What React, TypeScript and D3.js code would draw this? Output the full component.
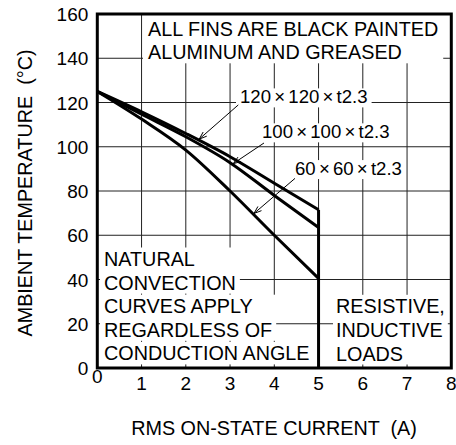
import React, { useEffect, useRef } from "react";
import * as d3 from "d3";

// ---------- data ----------
const xTicks = [0, 1, 2, 3, 4, 5, 6, 7, 8];
const yTicks = [0, 20, 40, 60, 80, 100, 120, 140, 160];
const currents = [0, 1, 2, 3, 4, 5];
const fin120 = [125, 115.8, 106, 95.5, 83.5, 71.5];
const fin100 = [125, 114.7, 104.5, 92.8, 78, 63.5];
const fin60 = [125, 112.5, 98.5, 80, 60, 40.5];
const seriesNames = [["120", "120", "t2.3"], ["100", "100", "t2.3"], ["60", "60", "t2.3"]];
const labelPos = [[3.225, 119.6], [3.722, 103.8], [4.468, 87.2]];
const leaderStart = [[3.186, 118.9], [3.767, 101.7], [4.468, 85.7]];
const leaderTipX = [2.305, 3.073, 3.541];
const noteTop = ["ALL FINS ARE BLACK PAINTED", "ALUMINUM AND GREASED"];
const noteLeft = [["NATURAL", "CONVECTION"], ["CURVES APPLY", "REGARDLESS OF"], ["CONDUCTION ANGLE"]];
const noteRight = ["RESISTIVE,", "INDUCTIVE", "LOADS"];
const xTitle = "RMS ON-STATE CURRENT  (A)";
const yTitle = "AMBIENT TEMPERATURE  (°C)";
const limitCurrent = 5;

const W = 456;
const H = 445;
const FONT = "'Liberation Sans', Arial, Helvetica, sans-serif";

export default function App() {
  const ref = useRef<SVGSVGElement>(null);

  useEffect(() => {
    const svg = d3.select(ref.current);
    svg.selectAll("*").remove();

    const x = d3.scaleLinear().domain([0, 8]).range([97.3, 451.3]);
    const y = d3.scaleLinear().domain([0, 160]).range([368, 14]);

    const grid = svg.append("g");
    const boxes = svg.append("g");
    const texts = svg.append("g").attr("font-family", FONT).attr("fill", "#000");
    const marks = svg.append("g");

    // grid
    xTicks.slice(1, -1).forEach((t) => {
      grid.append("line").attr("x1", x(t)).attr("x2", x(t)).attr("y1", y(0)).attr("y2", y(160))
        .attr("stroke", "#222").attr("stroke-width", 1);
    });
    yTicks.slice(1, -1).forEach((t) => {
      grid.append("line").attr("x1", x(0)).attr("x2", x(8)).attr("y1", y(t)).attr("y2", y(t))
        .attr("stroke", "#222").attr("stroke-width", 1);
    });

    const addBox = (nodes: SVGTextElement[], padX: number, padTop: number, padBottom: number) => {
      let x0 = Infinity, x1 = -Infinity, y0 = Infinity, y1 = -Infinity;
      nodes.forEach((n) => {
        const b = n.getBBox();
        x0 = Math.min(x0, b.x); x1 = Math.max(x1, b.x + b.width);
        y0 = Math.min(y0, b.y); y1 = Math.max(y1, b.y + b.height);
      });
      boxes.append("rect").attr("x", x0 - padX).attr("y", y0 - padTop)
        .attr("width", x1 - x0 + 2 * padX).attr("height", y1 - y0 + padTop + padBottom)
        .attr("fill", "#fff");
    };

    const FS = 19.8;
    const addText = (str: string, tx: number, ty: number, fs = FS, anchor = "start") =>
      texts.append("text").attr("x", tx).attr("y", ty).attr("font-size", fs)
        .attr("text-anchor", anchor).style("white-space", "pre").text(str).node() as SVGTextElement;

    // top note
    const topNodes = noteTop.map((s, i) => addText(s, 148, 36 + i * 23.3));
    addBox(topNodes, 5, 10, 0);

    // left note
    let line = 0;
    noteLeft.forEach((group) => {
      const nodes = group.map((s) => addText(s, 104, 266 + (line++) * 23.6));
      addBox(nodes, 4, 0.5, 0);
    });

    // right note
    const rightNodes = noteRight.map((s, i) => addText(s, 336, 313.3 + i * 23.6));
    addBox(rightNodes, 3, 0.5, 0);

    // series labels (dims separated by ×)
    seriesNames.forEach((parts, i) => {
      const t = texts.append("text").attr("x", x(labelPos[i][0])).attr("y", y(labelPos[i][1]))
        .attr("font-size", 18.6);
      parts.forEach((p, k) => {
        if (k > 0) t.append("tspan").attr("dx", 3.2).text("×");
        t.append("tspan").attr("dx", k > 0 ? 3.2 : 0).text(p);
      });
      addBox([t.node() as SVGTextElement], 4, -2, 0);
    });

    // tick labels
    yTicks.forEach((t) => {
      addText(String(t), x(0) - 9, y(t) + 7, 19, "end");
    });
    xTicks.forEach((t) => {
      addText(String(t), x(t), t === 0 ? 383 : 390, 19, "middle");
    });

    // titles
    texts.append("text").attr("transform", `translate(32,193) rotate(-90)`)
      .attr("text-anchor", "middle").attr("font-size", FS).style("white-space", "pre").text(yTitle);
    addText(xTitle, 274, 435, FS, "middle");

    // curves
    const series = [fin120, fin100, fin60];
    const lineGen = d3.line<number>()
      .x((_, i) => x(currents[i]))
      .y((d) => y(d))
      .curve(d3.curveMonotoneX);
    series.forEach((s) => {
      marks.append("path").attr("d", lineGen(s)).attr("fill", "none")
        .attr("stroke", "#000").attr("stroke-width", 3).attr("stroke-linejoin", "round");
    });

    // leaders with open arrowheads
    const interp = (s: number[], xv: number) => {
      const i = Math.min(Math.floor(xv), s.length - 2);
      const f = xv - i;
      return s[i] + (s[i + 1] - s[i]) * f;
    };
    series.forEach((s, i) => {
      const sx = x(leaderStart[i][0]), sy = y(leaderStart[i][1]);
      const tx = x(leaderTipX[i]), ty = y(interp(s, leaderTipX[i])) - 1.5;
      marks.append("line").attr("x1", sx).attr("y1", sy).attr("x2", tx).attr("y2", ty)
        .attr("stroke", "#000").attr("stroke-width", 1);
      const ang = Math.atan2(sy - ty, sx - tx);
      const L = 8, a = 0.35;
      const p1 = [tx + L * Math.cos(ang + a), ty + L * Math.sin(ang + a)];
      const p2 = [tx + L * Math.cos(ang - a), ty + L * Math.sin(ang - a)];
      marks.append("path").attr("d", `M${p1[0]},${p1[1]}L${tx},${ty}L${p2[0]},${p2[1]}`)
        .attr("fill", "none").attr("stroke", "#000").attr("stroke-width", 1);
    });

    // limit line at 5 A
    marks.append("line").attr("x1", x(limitCurrent)).attr("x2", x(limitCurrent))
      .attr("y1", y(fin120[fin120.length - 1])).attr("y2", y(0))
      .attr("stroke", "#000").attr("stroke-width", 3);

    // frame
    marks.append("rect").attr("x", x(0)).attr("y", y(160))
      .attr("width", x(8) - x(0)).attr("height", y(0) - y(160))
      .attr("fill", "none").attr("stroke", "#000").attr("stroke-width", 3);
  }, []);

  return (
    <svg ref={ref} width={W} height={H}
      style={{ position: "absolute", left: 0, top: 0, background: "#fff" }} />
  );
}
